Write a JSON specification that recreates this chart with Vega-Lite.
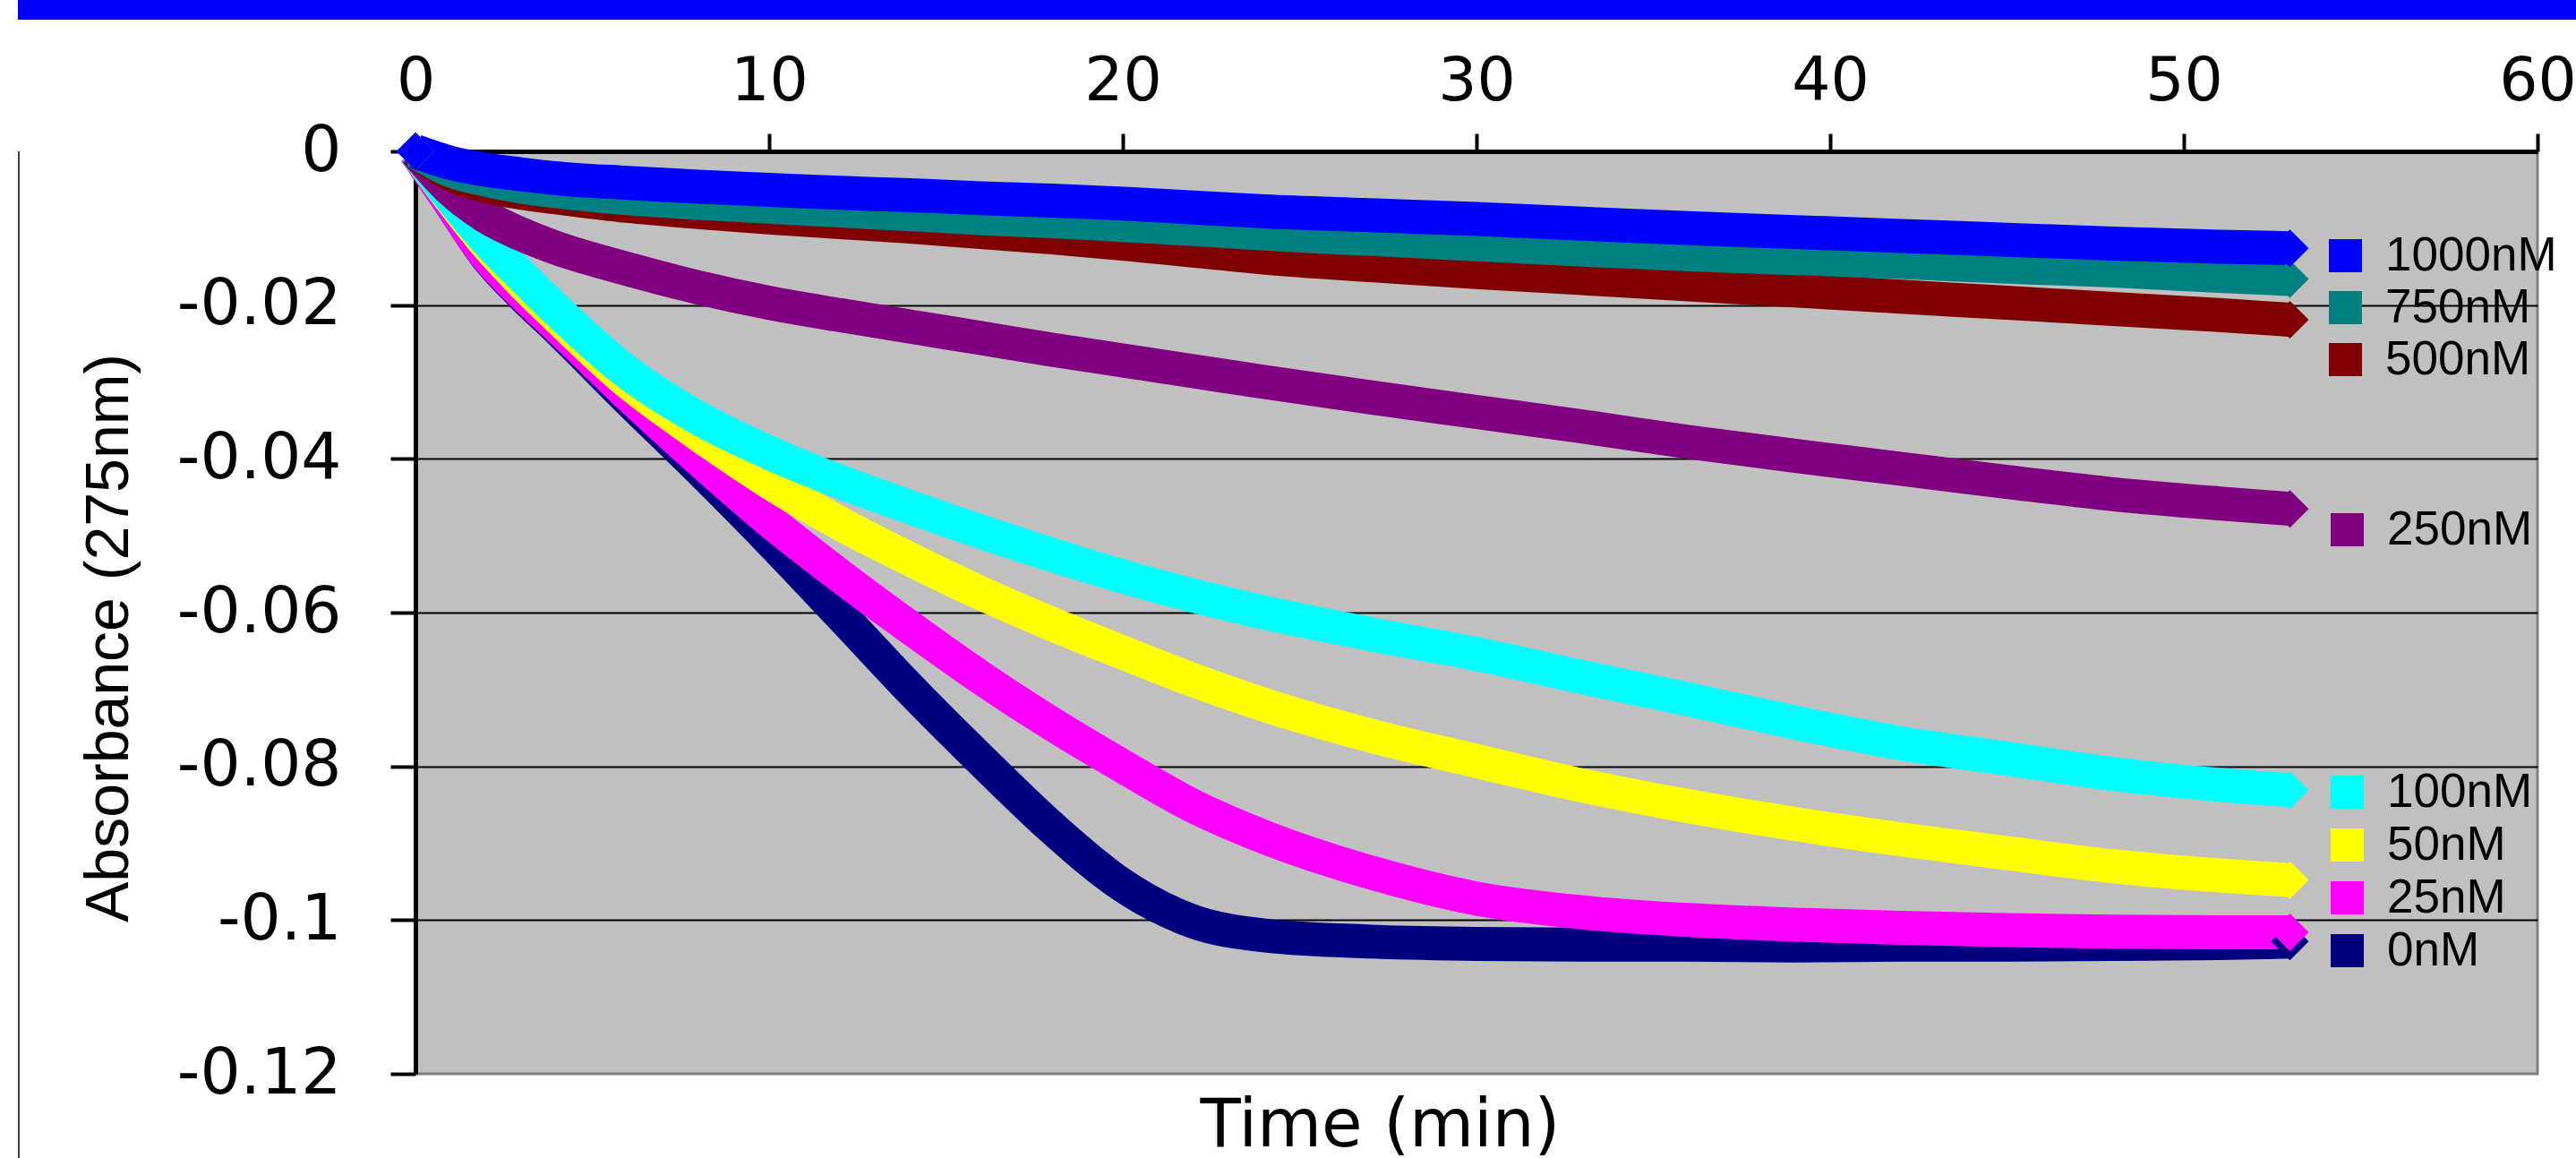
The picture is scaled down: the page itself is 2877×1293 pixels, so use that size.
{
  "$schema": "https://vega.github.io/schema/vega-lite/v6.json",
  "background": "white",
  "padding": {"left": 20, "top": 0, "right": 0, "bottom": 0},
  "config": {"view": {"stroke": null}},
  "datasets": {
    "kinetics": [
      {"conc": "0nM", "t": 0, "abs": 0}, {"conc": "0nM", "t": 1, "abs": -0.0068}, {"conc": "0nM", "t": 2, "abs": -0.0136}, {"conc": "0nM", "t": 3, "abs": -0.0186}, {"conc": "0nM", "t": 4, "abs": -0.0230}, {"conc": "0nM", "t": 6, "abs": -0.0322}, {"conc": "0nM", "t": 8, "abs": -0.0412}, {"conc": "0nM", "t": 10, "abs": -0.0505}, {"conc": "0nM", "t": 12, "abs": -0.0602}, {"conc": "0nM", "t": 14, "abs": -0.0700}, {"conc": "0nM", "t": 16, "abs": -0.0792}, {"conc": "0nM", "t": 18, "abs": -0.0880}, {"conc": "0nM", "t": 20, "abs": -0.0955}, {"conc": "0nM", "t": 22, "abs": -0.1002}, {"conc": "0nM", "t": 24, "abs": -0.1020}, {"conc": "0nM", "t": 27, "abs": -0.1028}, {"conc": "0nM", "t": 30, "abs": -0.1031}, {"conc": "0nM", "t": 33, "abs": -0.1032}, {"conc": "0nM", "t": 36, "abs": -0.1032}, {"conc": "0nM", "t": 39, "abs": -0.1033}, {"conc": "0nM", "t": 42, "abs": -0.1032}, {"conc": "0nM", "t": 45, "abs": -0.1032}, {"conc": "0nM", "t": 48, "abs": -0.1031}, {"conc": "0nM", "t": 51, "abs": -0.1030}, {"conc": "0nM", "t": 53, "abs": -0.1028},
      {"conc": "25nM", "t": 0, "abs": 0}, {"conc": "25nM", "t": 1, "abs": -0.0068}, {"conc": "25nM", "t": 2, "abs": -0.0135}, {"conc": "25nM", "t": 3, "abs": -0.0184}, {"conc": "25nM", "t": 4, "abs": -0.0227}, {"conc": "25nM", "t": 6, "abs": -0.0316}, {"conc": "25nM", "t": 8, "abs": -0.0400}, {"conc": "25nM", "t": 10, "abs": -0.0480}, {"conc": "25nM", "t": 12, "abs": -0.0552}, {"conc": "25nM", "t": 14, "abs": -0.0620}, {"conc": "25nM", "t": 16, "abs": -0.0685}, {"conc": "25nM", "t": 18, "abs": -0.0745}, {"conc": "25nM", "t": 20, "abs": -0.0800}, {"conc": "25nM", "t": 22, "abs": -0.0852}, {"conc": "25nM", "t": 24, "abs": -0.0892}, {"conc": "25nM", "t": 27, "abs": -0.0938}, {"conc": "25nM", "t": 30, "abs": -0.0972}, {"conc": "25nM", "t": 33, "abs": -0.0990}, {"conc": "25nM", "t": 36, "abs": -0.1000}, {"conc": "25nM", "t": 39, "abs": -0.1006}, {"conc": "25nM", "t": 42, "abs": -0.1010}, {"conc": "25nM", "t": 45, "abs": -0.1013}, {"conc": "25nM", "t": 48, "abs": -0.1015}, {"conc": "25nM", "t": 51, "abs": -0.1016}, {"conc": "25nM", "t": 53, "abs": -0.1016},
      {"conc": "50nM", "t": 0, "abs": 0}, {"conc": "50nM", "t": 1, "abs": -0.0062}, {"conc": "50nM", "t": 2, "abs": -0.0120}, {"conc": "50nM", "t": 3, "abs": -0.0170}, {"conc": "50nM", "t": 4, "abs": -0.0215}, {"conc": "50nM", "t": 6, "abs": -0.0300}, {"conc": "50nM", "t": 8, "abs": -0.0368}, {"conc": "50nM", "t": 10, "abs": -0.0430}, {"conc": "50nM", "t": 12, "abs": -0.0484}, {"conc": "50nM", "t": 14, "abs": -0.0531}, {"conc": "50nM", "t": 16, "abs": -0.0575}, {"conc": "50nM", "t": 18, "abs": -0.0615}, {"conc": "50nM", "t": 20, "abs": -0.0652}, {"conc": "50nM", "t": 22, "abs": -0.0688}, {"conc": "50nM", "t": 24, "abs": -0.0720}, {"conc": "50nM", "t": 27, "abs": -0.0760}, {"conc": "50nM", "t": 30, "abs": -0.0793}, {"conc": "50nM", "t": 33, "abs": -0.0825}, {"conc": "50nM", "t": 36, "abs": -0.0852}, {"conc": "50nM", "t": 39, "abs": -0.0875}, {"conc": "50nM", "t": 42, "abs": -0.0895}, {"conc": "50nM", "t": 45, "abs": -0.0913}, {"conc": "50nM", "t": 48, "abs": -0.0930}, {"conc": "50nM", "t": 51, "abs": -0.0942}, {"conc": "50nM", "t": 53, "abs": -0.0948},
      {"conc": "100nM", "t": 0, "abs": 0}, {"conc": "100nM", "t": 1, "abs": -0.0060}, {"conc": "100nM", "t": 2, "abs": -0.0115}, {"conc": "100nM", "t": 3, "abs": -0.0162}, {"conc": "100nM", "t": 4, "abs": -0.0207}, {"conc": "100nM", "t": 6, "abs": -0.0288}, {"conc": "100nM", "t": 8, "abs": -0.0347}, {"conc": "100nM", "t": 10, "abs": -0.0392}, {"conc": "100nM", "t": 12, "abs": -0.0430}, {"conc": "100nM", "t": 14, "abs": -0.0463}, {"conc": "100nM", "t": 16, "abs": -0.0495}, {"conc": "100nM", "t": 18, "abs": -0.0525}, {"conc": "100nM", "t": 20, "abs": -0.0553}, {"conc": "100nM", "t": 22, "abs": -0.0578}, {"conc": "100nM", "t": 24, "abs": -0.0600}, {"conc": "100nM", "t": 27, "abs": -0.0628}, {"conc": "100nM", "t": 30, "abs": -0.0654}, {"conc": "100nM", "t": 33, "abs": -0.0684}, {"conc": "100nM", "t": 36, "abs": -0.0713}, {"conc": "100nM", "t": 39, "abs": -0.0743}, {"conc": "100nM", "t": 42, "abs": -0.0770}, {"conc": "100nM", "t": 45, "abs": -0.0790}, {"conc": "100nM", "t": 48, "abs": -0.0810}, {"conc": "100nM", "t": 51, "abs": -0.0824}, {"conc": "100nM", "t": 53, "abs": -0.0831},
      {"conc": "250nM", "t": 0, "abs": 0}, {"conc": "250nM", "t": 1, "abs": -0.0050}, {"conc": "250nM", "t": 2, "abs": -0.0085}, {"conc": "250nM", "t": 3, "abs": -0.0108}, {"conc": "250nM", "t": 4, "abs": -0.0126}, {"conc": "250nM", "t": 6, "abs": -0.0153}, {"conc": "250nM", "t": 8, "abs": -0.0177}, {"conc": "250nM", "t": 10, "abs": -0.0197}, {"conc": "250nM", "t": 12, "abs": -0.0213}, {"conc": "250nM", "t": 14, "abs": -0.0228}, {"conc": "250nM", "t": 16, "abs": -0.0243}, {"conc": "250nM", "t": 18, "abs": -0.0258}, {"conc": "250nM", "t": 20, "abs": -0.0272}, {"conc": "250nM", "t": 22, "abs": -0.0286}, {"conc": "250nM", "t": 24, "abs": -0.0300}, {"conc": "250nM", "t": 27, "abs": -0.0320}, {"conc": "250nM", "t": 30, "abs": -0.0339}, {"conc": "250nM", "t": 33, "abs": -0.0358}, {"conc": "250nM", "t": 36, "abs": -0.0378}, {"conc": "250nM", "t": 39, "abs": -0.0396}, {"conc": "250nM", "t": 42, "abs": -0.0413}, {"conc": "250nM", "t": 45, "abs": -0.0430}, {"conc": "250nM", "t": 48, "abs": -0.0446}, {"conc": "250nM", "t": 51, "abs": -0.0458}, {"conc": "250nM", "t": 53, "abs": -0.0465},
      {"conc": "500nM", "t": 0, "abs": 0}, {"conc": "500nM", "t": 1, "abs": -0.0030}, {"conc": "500nM", "t": 2, "abs": -0.0045}, {"conc": "500nM", "t": 3, "abs": -0.0054}, {"conc": "500nM", "t": 4, "abs": -0.0060}, {"conc": "500nM", "t": 6, "abs": -0.0071}, {"conc": "500nM", "t": 8, "abs": -0.0079}, {"conc": "500nM", "t": 10, "abs": -0.0086}, {"conc": "500nM", "t": 12, "abs": -0.0092}, {"conc": "500nM", "t": 14, "abs": -0.0098}, {"conc": "500nM", "t": 16, "abs": -0.0105}, {"conc": "500nM", "t": 18, "abs": -0.0112}, {"conc": "500nM", "t": 20, "abs": -0.0120}, {"conc": "500nM", "t": 22, "abs": -0.0129}, {"conc": "500nM", "t": 24, "abs": -0.0138}, {"conc": "500nM", "t": 27, "abs": -0.0148}, {"conc": "500nM", "t": 30, "abs": -0.0157}, {"conc": "500nM", "t": 33, "abs": -0.0165}, {"conc": "500nM", "t": 36, "abs": -0.0173}, {"conc": "500nM", "t": 39, "abs": -0.0181}, {"conc": "500nM", "t": 42, "abs": -0.0189}, {"conc": "500nM", "t": 45, "abs": -0.0197}, {"conc": "500nM", "t": 48, "abs": -0.0205}, {"conc": "500nM", "t": 51, "abs": -0.0213}, {"conc": "500nM", "t": 53, "abs": -0.0219},
      {"conc": "750nM", "t": 0, "abs": 0}, {"conc": "750nM", "t": 1, "abs": -0.0025}, {"conc": "750nM", "t": 2, "abs": -0.0037}, {"conc": "750nM", "t": 3, "abs": -0.0046}, {"conc": "750nM", "t": 4, "abs": -0.0052}, {"conc": "750nM", "t": 6, "abs": -0.0061}, {"conc": "750nM", "t": 8, "abs": -0.0067}, {"conc": "750nM", "t": 10, "abs": -0.0072}, {"conc": "750nM", "t": 12, "abs": -0.0077}, {"conc": "750nM", "t": 14, "abs": -0.0082}, {"conc": "750nM", "t": 16, "abs": -0.0087}, {"conc": "750nM", "t": 18, "abs": -0.0091}, {"conc": "750nM", "t": 20, "abs": -0.0096}, {"conc": "750nM", "t": 22, "abs": -0.0101}, {"conc": "750nM", "t": 24, "abs": -0.0107}, {"conc": "750nM", "t": 27, "abs": -0.0114}, {"conc": "750nM", "t": 30, "abs": -0.0121}, {"conc": "750nM", "t": 33, "abs": -0.0128}, {"conc": "750nM", "t": 36, "abs": -0.0134}, {"conc": "750nM", "t": 39, "abs": -0.0139}, {"conc": "750nM", "t": 42, "abs": -0.0144}, {"conc": "750nM", "t": 45, "abs": -0.0150}, {"conc": "750nM", "t": 48, "abs": -0.0155}, {"conc": "750nM", "t": 51, "abs": -0.0162}, {"conc": "750nM", "t": 53, "abs": -0.0166},
      {"conc": "1000nM", "t": 0, "abs": 0}, {"conc": "1000nM", "t": 1, "abs": -0.0015}, {"conc": "1000nM", "t": 2, "abs": -0.0024}, {"conc": "1000nM", "t": 3, "abs": -0.0030}, {"conc": "1000nM", "t": 4, "abs": -0.0035}, {"conc": "1000nM", "t": 6, "abs": -0.0041}, {"conc": "1000nM", "t": 8, "abs": -0.0046}, {"conc": "1000nM", "t": 10, "abs": -0.0050}, {"conc": "1000nM", "t": 12, "abs": -0.0054}, {"conc": "1000nM", "t": 14, "abs": -0.0057}, {"conc": "1000nM", "t": 16, "abs": -0.0061}, {"conc": "1000nM", "t": 18, "abs": -0.0064}, {"conc": "1000nM", "t": 20, "abs": -0.0068}, {"conc": "1000nM", "t": 22, "abs": -0.0073}, {"conc": "1000nM", "t": 24, "abs": -0.0078}, {"conc": "1000nM", "t": 27, "abs": -0.0083}, {"conc": "1000nM", "t": 30, "abs": -0.0088}, {"conc": "1000nM", "t": 33, "abs": -0.0094}, {"conc": "1000nM", "t": 36, "abs": -0.0100}, {"conc": "1000nM", "t": 39, "abs": -0.0105}, {"conc": "1000nM", "t": 42, "abs": -0.0110}, {"conc": "1000nM", "t": 45, "abs": -0.0115}, {"conc": "1000nM", "t": 48, "abs": -0.0120}, {"conc": "1000nM", "t": 51, "abs": -0.0124}, {"conc": "1000nM", "t": 53, "abs": -0.0126}
    ]
  },
  "spacing": 33,
  "resolve": {"scale": {"color": "independent", "fill": "independent", "stroke": "independent"}},
  "vconcat": [
    {
      "width": 2857,
      "height": 22,
      "view": {"fill": "#0000FF", "stroke": null},
      "data": {"values": [{"label": ""}]},
      "mark": {"type": "text", "color": "white"},
      "encoding": {"text": {"field": "label", "type": "nominal"}}
    },
    {
      "spacing": 64,
      "resolve": {"scale": {"color": "independent", "fill": "independent", "stroke": "independent"}},
      "hconcat": [
        {
          "width": 2,
          "height": 1236,
          "view": {"fill": "#404040", "stroke": null},
          "data": {"values": [{"label": ""}]},
          "mark": {"type": "text"},
          "encoding": {"text": {"field": "label", "type": "nominal"}}
        },
        {
          "width": 2370,
          "height": 1030,
          "view": {"fill": "#C0C0C0", "stroke": "#808080", "strokeWidth": 3},
          "data": {"name": "kinetics"},
          "encoding": {
            "x": {
              "field": "t", "type": "quantitative",
              "scale": {"domain": [0, 60], "nice": false, "zero": false},
              "axis": {
                "orient": "top", "values": [0, 10, 20, 30, 40, 50, 60], "format": "d",
                "title": "Time (min)", "titleX": 1077, "titleY": 1110, "titleAlign": "center", "titleBaseline": "alphabetic", "titleAngle": 0,
                "titleFont": "DejaVu Sans", "titleFontSize": 74, "titleFontWeight": "normal", "titleColor": "black",
                "labelFont": "DejaVu Sans", "labelFontSize": 68, "labelColor": "black", "labelPadding": 24, "labelFlush": false, "labelOverlap": false, "labelLimit": 400,
                "tickSize": 20, "tickWidth": 4, "tickColor": "black",
                "domainWidth": 5, "domainColor": "black", "grid": false
              }
            },
            "y": {
              "field": "abs", "type": "quantitative",
              "scale": {"domain": [-0.12, 0], "nice": false, "zero": false},
              "axis": {
                "values": [0, -0.02, -0.04, -0.06, -0.08, -0.1, -0.12], "labelExpr": "'' + datum.value",
                "title": "Absorbance (275nm)", "titleX": -322, "titleY": 543, "titleAngle": -90, "titleAlign": "center", "titleBaseline": "alphabetic",
                "titleFont": "Liberation Sans", "titleFontSize": 68, "titleFontWeight": "normal", "titleColor": "black", "titleLimit": 2000,
                "labelFont": "DejaVu Sans", "labelFontSize": 71, "labelColor": "black", "labelPadding": 55, "labelFlush": false, "labelOverlap": false, "labelLimit": 400,
                "tickSize": 28, "tickWidth": 4, "tickColor": "black",
                "domainWidth": 5, "domainColor": "black",
                "grid": true, "gridColor": "black", "gridWidth": 2,
                "gridOpacity": {"condition": {"test": "datum.value == -0.12 || datum.value == 0", "value": 0}, "value": 1}
              }
            }
          },
          "layer": [
            {
              "mark": {"type": "line", "strokeWidth": 38, "strokeJoin": "round", "strokeCap": "butt", "interpolate": "monotone"},
              "encoding": {
                "color": {
                  "field": "conc", "type": "nominal",
                  "scale": {"domain": ["0nM", "25nM", "50nM", "100nM", "250nM", "500nM", "750nM", "1000nM"], "range": ["#000080", "#FF00FF", "#FFFF00", "#00FFFF", "#800080", "#800000", "#008080", "#0000FF"]},
                  "legend": null
                }
              }
            },
            {
              "transform": [{"filter": {"field": "conc", "oneOf": ["0nM", "25nM", "50nM", "100nM"]}}, {"filter": {"field": "t", "oneOf": [0, 53]}}],
              "mark": {"type": "point", "shape": "diamond", "filled": true, "size": 1764, "opacity": 1, "strokeWidth": 0},
              "encoding": {
                "color": {
                  "field": "conc", "type": "nominal",
                  "scale": {"domain": ["100nM", "50nM", "25nM", "0nM"], "range": ["#00FFFF", "#FFFF00", "#FF00FF", "#000080"]},
                  "legend": {"orient": "none", "legendX": 2131, "legendY": 689, "title": null, "padding": 0, "symbolType": "square", "symbolSize": 1369, "symbolStrokeWidth": 0, "symbolOpacity": 1, "labelFont": "Liberation Sans", "labelFontSize": 53, "labelColor": "black", "labelLimit": 400, "labelOffset": 18, "rowPadding": 5}
                }
              }
            },
            {
              "transform": [{"filter": {"field": "conc", "equal": "250nM"}}, {"filter": {"field": "t", "oneOf": [0, 53]}}],
              "mark": {"type": "point", "shape": "diamond", "filled": true, "size": 1764, "opacity": 1, "fill": "#800080", "strokeWidth": 0},
              "encoding": {
                "stroke": {
                  "field": "conc", "type": "nominal",
                  "scale": {"domain": ["250nM"], "range": ["#800080"]},
                  "legend": {"orient": "none", "legendX": 2131, "legendY": 396, "title": null, "padding": 0, "symbolType": "square", "symbolSize": 1369, "symbolFillColor": "#800080", "symbolStrokeWidth": 0, "symbolOpacity": 1, "labelFont": "Liberation Sans", "labelFontSize": 53, "labelColor": "black", "labelLimit": 400, "labelOffset": 18, "rowPadding": 4}
                }
              }
            },
            {
              "transform": [{"filter": {"field": "conc", "oneOf": ["500nM", "750nM", "1000nM"]}}, {"filter": {"field": "t", "oneOf": [0, 53]}}],
              "mark": {"type": "point", "shape": "diamond", "filled": true, "size": 1764, "opacity": 1, "strokeWidth": 0},
              "encoding": {
                "fill": {
                  "field": "conc", "type": "nominal",
                  "scale": {"domain": ["1000nM", "750nM", "500nM"], "range": ["#0000FF", "#008080", "#800000"]},
                  "legend": {"orient": "none", "legendX": 2129, "legendY": 90, "title": null, "padding": 0, "symbolType": "square", "symbolSize": 1369, "symbolStrokeWidth": 0, "symbolOpacity": 1, "labelFont": "Liberation Sans", "labelFontSize": 53, "labelColor": "black", "labelLimit": 400, "labelOffset": 18, "rowPadding": 4}
                }
              }
            }
          ],
          "resolve": {"scale": {"color": "independent", "fill": "independent", "stroke": "independent"}}
        }
      ]
    }
  ]
}
